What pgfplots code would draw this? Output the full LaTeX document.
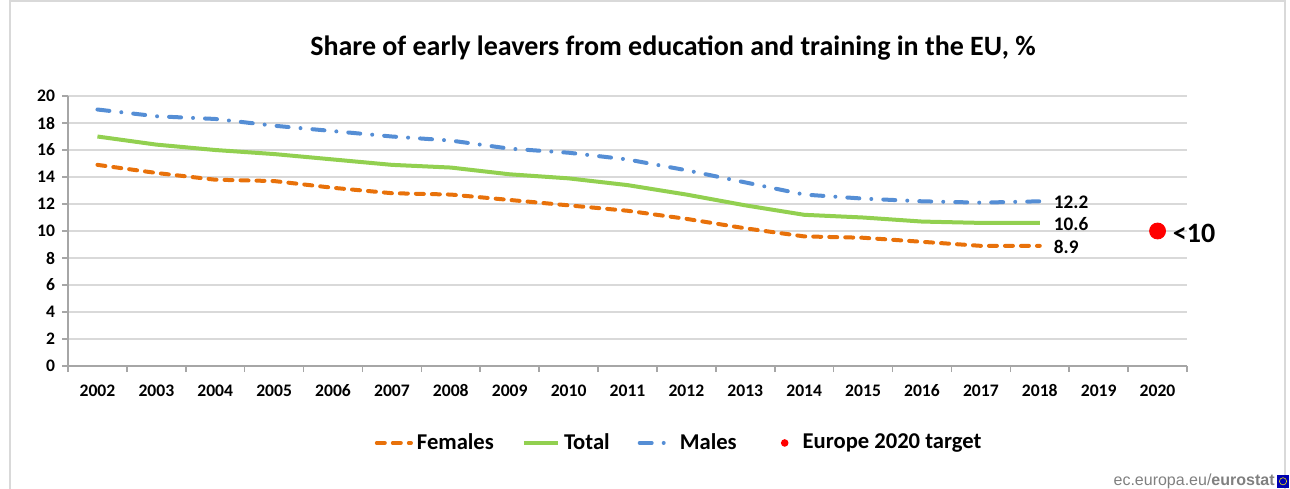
\documentclass[border=0pt]{standalone}
\usepackage{pgfplots}
\pgfplotsset{compat=1.18}
\usepackage{fontspec}
\setmainfont{Carlito}
\newfontfamily\arialfont{Liberation Sans}
\definecolor{cfem}{HTML}{E8710A}
\definecolor{ctot}{HTML}{92D050}
\definecolor{cmal}{HTML}{558ED5}
\definecolor{cgrid}{HTML}{D9D9D9}
\definecolor{caxis}{HTML}{A6A6A6}
\begin{document}
\begin{tikzpicture}
\path[use as bounding box] (0,0) rectangle (645pt,244pt);
\draw[cgrid, line width=0.8pt] (5pt,-5pt) rectangle (642.5pt,243.6pt);
\node[font=\fontsize{14}{16}\selectfont\bfseries] at (336.5pt,220pt) {Share of early leavers from education and training in the EU, \%};
\begin{axis}[
  at={(34pt,61pt)}, anchor=south west,
  scale only axis, width=559.5pt, height=135pt,
  xmin=-0.5, xmax=18.5, ymin=0, ymax=20,
  axis x line*=bottom, axis y line*=left,
  axis line style={caxis, line width=0.8pt},
  ytick={0,2,...,20},
  xtick={0,...,18},
  xticklabels={2002,2003,2004,2005,2006,2007,2008,2009,2010,2011,2012,2013,2014,2015,2016,2017,2018,2019,2020},
  minor xtick={-0.5,0.5,...,18.5},
  major x tick style={draw=none},
  minor x tick style={caxis, line width=0.8pt},
  y tick style={caxis, line width=0.8pt},
  tick align=outside,
  major tick length=3pt, minor tick length=3pt,
  ymajorgrids, grid style={cgrid, line width=0.8pt},
  /pgf/number format/assume math mode=true,
  /pgf/number format/1000 sep={},
  ticklabel style={font=\fontsize{8.8}{10}\selectfont\bfseries},
  xticklabel style={yshift=-2pt, text height=6.5pt, text depth=0pt},
  clip=false,
  legend columns=4,
  legend style={at={(0.547,-0.285)}, anchor=center, draw=none, fill=none,
    font=\fontsize{11.3}{13}\selectfont\bfseries,
    /tikz/every even column/.append style={column sep=12pt}},
  legend cell align=left,
]
\addplot[cfem, line width=2pt, line cap=round, dash pattern=on 4pt off 4pt] coordinates {
(0,14.9)(1,14.3)(2,13.8)(3,13.7)(4,13.2)(5,12.8)(6,12.7)(7,12.3)(8,11.9)(9,11.5)(10,10.9)(11,10.2)(12,9.6)(13,9.5)(14,9.2)(15,8.9)(16,8.9)};
\addlegendentry{Females}
\addplot[ctot, line width=2pt] coordinates {
(0,17.0)(1,16.4)(2,16.0)(3,15.7)(4,15.3)(5,14.9)(6,14.7)(7,14.2)(8,13.9)(9,13.4)(10,12.7)(11,11.9)(12,11.2)(13,11.0)(14,10.7)(15,10.6)(16,10.6)};
\addlegendentry{Total}
\addplot[cmal, line width=2pt, line cap=round, dash pattern=on 6pt off 6pt on 0pt off 6pt] coordinates {
(0,19.0)(1,18.5)(2,18.3)(3,17.8)(4,17.4)(5,17.0)(6,16.7)(7,16.1)(8,15.8)(9,15.3)(10,14.5)(11,13.6)(12,12.7)(13,12.4)(14,12.2)(15,12.1)(16,12.2)};
\addlegendentry{Males}
\addplot[only marks, mark=*, mark size=4pt, color=red,
  legend image code/.code={\path[draw=none,fill=none] (0pt,0pt) -- (17pt,0pt); \fill[red, draw=none] (10pt,0pt) circle (1.9pt);}] coordinates {(18,10)};
\addlegendentry{Europe 2020 target}
\node[anchor=west, inner sep=1pt, font=\fontsize{9.6}{11}\selectfont\bfseries] at (axis cs:16.2,12.15) {12.2};
\node[anchor=west, inner sep=1pt, font=\fontsize{9.6}{11}\selectfont\bfseries] at (axis cs:16.2,10.5) {10.6};
\node[anchor=west, inner sep=1pt, font=\fontsize{9.6}{11}\selectfont\bfseries] at (axis cs:16.2,8.8) {8.9};
\node[anchor=west, inner sep=1pt, font=\fontsize{14}{16}\selectfont\bfseries] at (axis cs:18.22,9.85) {<10};
\end{axis}
\node[anchor=east, text=gray, font=\arialfont\fontsize{8}{9}\selectfont, inner sep=0pt] at (637.5pt,3.5pt) {ec.europa.eu/\textbf{eurostat}};
\fill[blue!70!black] (638.5pt,0.2pt) rectangle (644.5pt,6.5pt);
\draw[yellow!90!black, line width=0.3pt] (641.5pt,3.35pt) circle (1.8pt);
\end{tikzpicture}
\end{document}
